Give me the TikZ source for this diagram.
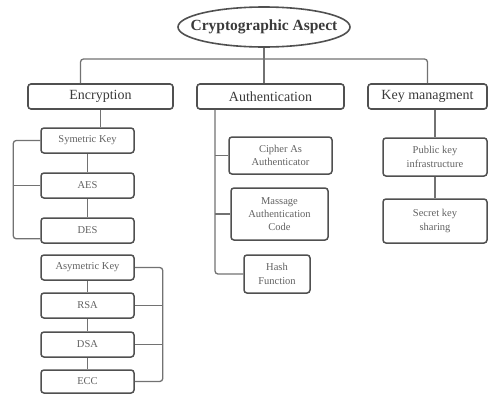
\documentclass[tikz,border=0pt]{standalone}
\usepackage{fontspec}
\setmainfont{Liberation Serif}
\usetikzlibrary{shapes.geometric}
\definecolor{boxline}{HTML}{505050}
\definecolor{wire}{HTML}{727272}
\definecolor{ink}{HTML}{3A3A3A}
\tikzset{
  topic/.style={draw=boxline,line width=1.6pt,rounded corners=3pt,inner sep=0pt,
    text=ink,font=\fontsize{14}{16}\selectfont},
  leaf/.style={draw=boxline,line width=1.5pt,rounded corners=3pt,inner sep=0pt,
    text=ink!80,align=center,font=\fontsize{10.5}{13.3}\selectfont},
  link/.style={draw=wire,line width=1.3pt,rounded corners=3pt},
}
\begin{document}
\begin{tikzpicture}[x=1pt,y=-1pt]
\useasboundingbox (0,0) rectangle (497,394);
%
\node[draw=boxline,line width=1.6pt,ellipse,inner sep=-15pt,minimum width=172pt,minimum height=40pt,
  text=ink,font=\fontsize{15.5}{17}\selectfont\bfseries] (title) at (264,27) {Cryptographic Aspect};
\node[topic,minimum width=145pt,minimum height=25pt] (enc) at (100.5,96.5) {Encryption};
\node[topic,minimum width=147pt,minimum height=25pt] (auth) at (270.5,96.5) {Authentication};
\node[topic,minimum width=119pt,minimum height=25pt] (km) at (427.5,96.5) {Key managment};
%
\node[leaf,minimum width=93pt,minimum height=25pt] (sym) at (87.5,140.5) {Symetric Key};
\node[leaf,minimum width=93pt,minimum height=25pt] (aes) at (87.5,185.5) {AES};
\node[leaf,minimum width=93pt,minimum height=25pt] (des) at (87.5,230.5) {DES};
\node[leaf,minimum width=93pt,minimum height=25pt] (asym) at (87.5,267.5) {Asymetric Key};
\node[leaf,minimum width=93pt,minimum height=25pt] (rsa) at (87.5,305.5) {RSA};
\node[leaf,minimum width=93pt,minimum height=25pt] (dsa) at (87.5,344.5) {DSA};
\node[leaf,minimum width=93pt,minimum height=23pt] (ecc) at (87.5,381.5) {ECC};
%
\node[leaf,minimum width=103pt,minimum height=37pt] (cipher) at (280.5,155.5) {Cipher As\\Authenticator};
\node[leaf,minimum width=97pt,minimum height=52pt] (mac) at (279.5,214) {Massage\\Authentication\\Code};
\node[leaf,minimum width=66pt,minimum height=38pt] (hash) at (277,274) {Hash\\Function};
%
\node[leaf,minimum width=104pt,minimum height=38pt] (pki) at (435,157) {Public key\\infrastructure};
\node[leaf,minimum width=104pt,minimum height=44pt] (skey) at (435,221) {Secret key\\sharing};
%
\coordinate (bus) at (264,59);
\coordinate (trunk) at (215,0);
\draw[link] (title.south) -- (title.south |- auth.north);
\draw[link] ([xshift=-20pt]enc.north) |- (bus) -| (km.north);
%
\draw[link] (enc.south) -- (enc.south |- sym.north);
\draw[link] (sym) -- (aes);
\draw[link] (aes) -- (des);
\draw[link] (sym.west) -- ++(-27,0) |- ([yshift=5pt]des.south west);
\draw[link] (aes.west) -- ++(-27,0);
%
\draw[link] (asym) -- (rsa);
\draw[link] (rsa) -- (dsa);
\draw[link] (dsa) -- (ecc);
\draw[link] (asym.east) -- ++(28,0) |- (ecc.east);
\draw[link] (rsa.east) -- ++(28,0);
\draw[link] (dsa.east) -- ++(28,0);
%
\draw[link] (auth.south -| trunk) |- (hash.west);
\draw[link] (cipher.west) -- (cipher.west -| trunk);
\draw[link] (mac.west) -- (mac.west -| trunk);
%
\draw[link] (pki.north |- km.south) -- (pki.north);
\draw[link] (pki) -- (skey);
\end{tikzpicture}
\end{document}
